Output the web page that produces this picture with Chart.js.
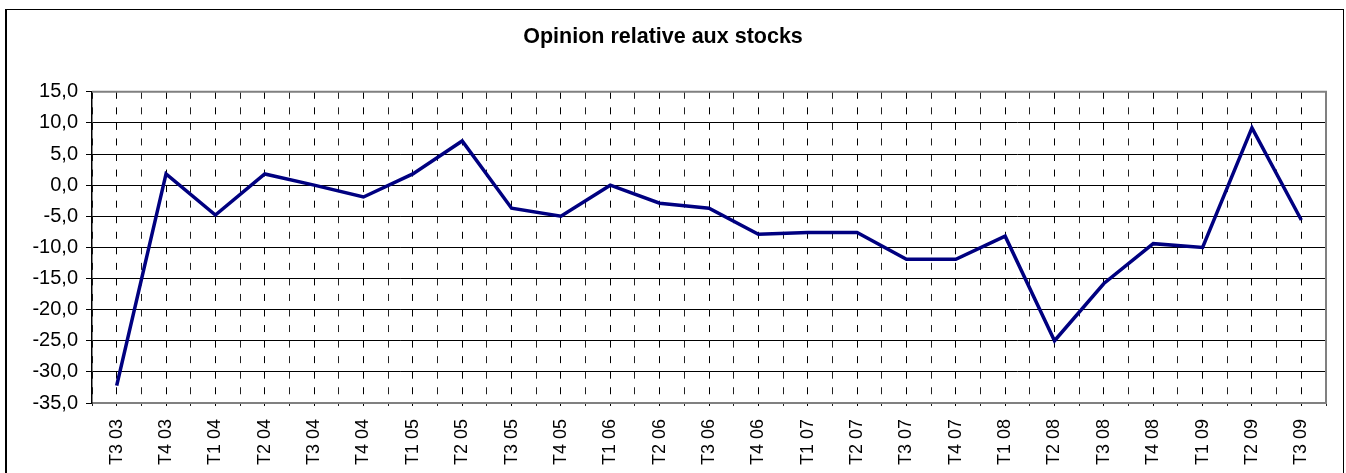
<!DOCTYPE html>
<html>
<head>
<meta charset="utf-8">
<script src="https://cdn.jsdelivr.net/npm/chart.js@4"></script>
<style>
    body { margin: 0; background: #fff; }
    #frame { position: absolute; left: 5px; top: 9px; width: 1336px; height: 480px; border: 1px solid #000; border-left-width: 2px; pointer-events: none; }
    #stocksChart { position: absolute; left: 0; top: 0; }
</style>
</head>
<body>
<canvas id="stocksChart" width="1346" height="473"></canvas>
<div id="frame"></div>
<script>
const quarters = ['T3 03', 'T4 03', 'T1 04', 'T2 04', 'T3 04', 'T4 04', 'T1 05', 'T2 05', 'T3 05', 'T4 05',
    'T1 06', 'T2 06', 'T3 06', 'T4 06', 'T1 07', 'T2 07', 'T3 07', 'T4 07', 'T1 08', 'T2 08',
    'T3 08', 'T4 08', 'T1 09', 'T2 09', 'T3 09'];
const opinion = [-32.2, 1.8, -4.8, 1.8, 0.0, -1.9, 1.8, 7.1, -3.7, -5.0,
    0.0, -2.9, -3.7, -7.9, -7.6, -7.6, -11.9, -11.9, -8.2, -25.0,
    -15.8, -9.4, -10.0, 9.2, -5.6];
const yMin = -35
const yMax = 15
const yStep = 5

const fontFamily = "'Liberation Sans', Arial, sans-serif"

// grey frame round the plot area (top and right sides)
const plotFrame = {
    id: 'plotFrame',
    afterDraw(chart) {
        const {ctx, chartArea} = chart;
        ctx.save();
        ctx.strokeStyle = '#808080';
        ctx.lineWidth = 2;
        ctx.beginPath();
        ctx.moveTo(chartArea.left, chartArea.top);
        ctx.lineTo(chartArea.right, chartArea.top);
        ctx.lineTo(chartArea.right, chartArea.bottom);
        ctx.stroke();
        ctx.restore();
    }
};

const ctx = document.getElementById('stocksChart').getContext('2d');
const myChart = new Chart(ctx, {
    type: 'line',
    data: {
        labels: quarters,
        datasets: [{
            label: 'Opinion relative aux stocks',
            data: opinion,
            borderColor: '#000080',
            borderWidth: 3.5,
            pointRadius: 0,
            tension: 0,
            fill: false
        }]
    },
    options: {
        responsive: false,
        animation: false,
        layout: {
            padding: { left: 0, right: 20, top: 0, bottom: 0 }
        },
        plugins: {
            legend: { display: false },
            tooltip: { enabled: false },
            title: {
                display: true,
                text: 'Opinion relative aux stocks',
                color: '#000',
                font: { family: fontFamily, size: 21.5, weight: 'bold' },
                padding: { top: 24, bottom: 42 }
            }
        },
        scales: {
            x: {
                type: 'category',
                offset: true,
                weight: 0,
                afterFit(scale) { scale.height = 70; },
                grid: {
                    offset: true,
                    color: '#222',
                    lineWidth: 1,
                    tickLength: 3
                },
                border: { display: true, color: '#808080', width: 2, dash: [7, 8.55] },
                ticks: {
                    color: '#000',
                    font: { family: fontFamily, size: 18 },
                    minRotation: 90,
                    maxRotation: 90,
                    autoSkip: false,
                    padding: 13
                }
            },
            x2: {
                type: 'category',
                position: 'bottom',
                offset: true,
                weight: -1,
                afterFit(scale) { scale.height = 0; },
                grid: {
                    offset: false,
                    color: '#000',
                    lineWidth: 1,
                    tickLength: 3
                },
                border: { display: false, dash: [7, 8.55] },
                ticks: { display: false, autoSkip: false }
            },
            y: {
                min: yMin,
                max: yMax,
                afterFit(scale) { scale.width = 92; },
                grid: {
                    color: '#000',
                    lineWidth: 1,
                    tickLength: 6
                },
                border: { display: true, color: '#000', width: 1.5 },
                ticks: {
                    stepSize: yStep,
                    color: '#000',
                    padding: 8,
                    font: { family: fontFamily, size: 20 },
                    callback: value => value.toFixed(1).replace('.', ',')
                }
            }
        }
    },
    plugins: [plotFrame]
});
</script>
</body>
</html>
